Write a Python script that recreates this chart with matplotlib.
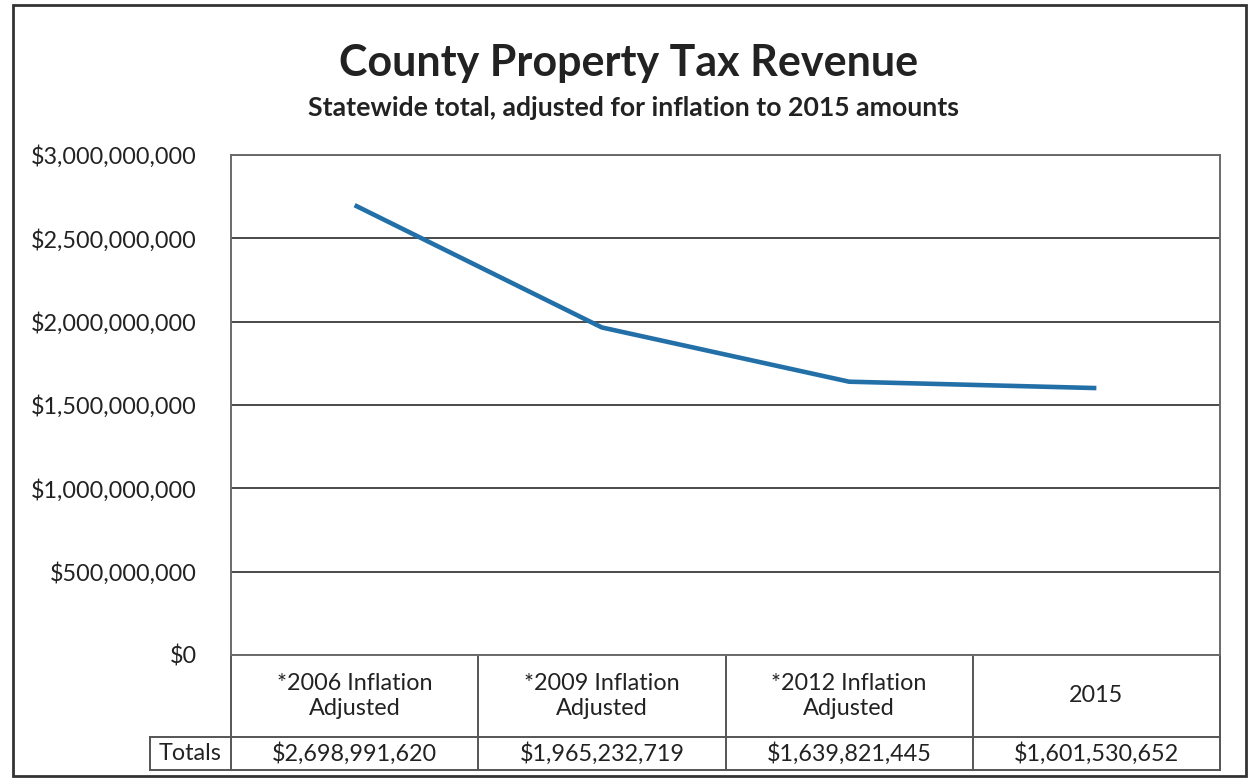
import matplotlib
matplotlib.use("Agg")
import matplotlib.pyplot as plt
from matplotlib.ticker import FuncFormatter, MultipleLocator
from matplotlib.patches import Rectangle
import matplotlib.transforms as mtransforms

categories = ["*2006 Inflation\nAdjusted", "*2009 Inflation\nAdjusted",
              "*2012 Inflation\nAdjusted", "2015"]
totals = [2698991620, 1965232719, 1639821445, 1601530652]
row_label = "Totals"
title = "County Property Tax Revenue"
subtitle = "Statewide total, adjusted for inflation to 2015 amounts"

FONT = ["Lato", "DejaVu Sans"]
plt.rcParams["font.family"] = FONT
TXT = "#222222"
FS = 16.8

W, H = 1252, 780
fig = plt.figure(figsize=(W / 100, H / 100), dpi=100)

def px_axes(x0, y0, x1, y1):
    return fig.add_axes([x0 / W, 1 - y1 / H, (x1 - x0) / W, (y1 - y0) / H])

L, R, T, B = 231, 1220, 155, 655
ax = px_axes(L, T, R, B)
x = list(range(len(totals)))
ax.plot(x, totals, color="#2370a8", lw=3.3, solid_capstyle="butt", zorder=3)
ax.set_xlim(-0.5, len(totals) - 0.5)
ax.set_ylim(0, 3e9)
ax.yaxis.set_major_locator(MultipleLocator(5e8))
ax.yaxis.set_major_formatter(FuncFormatter(lambda v, p: f"${v:,.0f}"))
ax.grid(axis="y", color="#4a4a4a", lw=1.4)
ax.set_axisbelow(True)
ax.set_xticks([])
ax.tick_params(axis="y", length=0, pad=24.5, labelsize=FS, labelcolor=TXT)
for s in ax.spines.values():
    s.set_color("#6a6a6a")
    s.set_linewidth(1.4)

# data table under the plot (x in data units, y in axes fraction)
trans = mtransforms.blended_transform_factory(ax.transData, ax.transAxes)
hdr_bot = -(737 - B) / (B - T)
tot_bot = -(770 - B) / (B - T)
lbl_left = -0.5 - (L - 150) / (R - L) * len(totals)
lc = "#555555"
kw = dict(transform=trans, clip_on=False, color=lc, lw=1.4)
ax.plot([lbl_left, len(totals) - 0.5], [hdr_bot, hdr_bot], **kw)
ax.plot([lbl_left, len(totals) - 0.5], [tot_bot, tot_bot], **kw)
for i in range(len(totals) + 1):
    ax.plot([i - 0.5, i - 0.5], [0, tot_bot], **kw)
ax.plot([lbl_left, lbl_left], [hdr_bot, tot_bot], **kw)
for i, (c, v) in enumerate(zip(categories, totals)):
    ax.text(i, hdr_bot / 2, c, transform=trans, ha="center", va="center",
            fontsize=FS, color=TXT, linespacing=1.25, clip_on=False)
    ax.text(i, (hdr_bot + tot_bot) / 2, f"${v:,.0f}", transform=trans,
            ha="center", va="center", fontsize=FS, color=TXT, clip_on=False)
ax.text((lbl_left - 0.5) / 2, (hdr_bot + tot_bot) / 2, row_label, transform=trans,
        ha="center", va="center", fontsize=FS, color=TXT, clip_on=False)

fig.text(629 / W, 1 - 63 / H, title, ha="center", va="center",
         fontsize=31, fontweight="bold", color=TXT)
fig.text(634 / W, 1 - 108 / H, subtitle, ha="center", va="center",
         fontsize=19.2, fontweight="bold", color=TXT)

# outer chart border
fig.patches.append(Rectangle((13 / W, 1 - 776 / H), (1246 - 13) / W, (776 - 5) / H,
                             transform=fig.transFigure, fill=False,
                             edgecolor="#333333", lw=2))

fig.savefig("out.png", dpi=100, facecolor="white")
